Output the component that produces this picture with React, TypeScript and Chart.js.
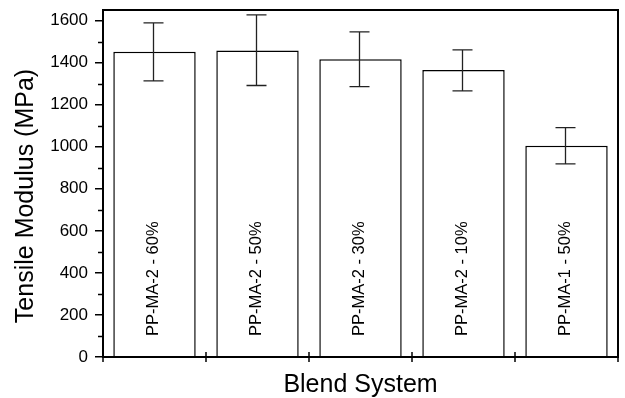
import React, { useEffect, useRef } from "react";
import { Chart, registerables } from "chart.js";

Chart.register(...registerables);

// Blend systems and their measured tensile modulus (MPa)
const categories = [
  "PP-MA-2 - 60%",
  "PP-MA-2 - 50%",
  "PP-MA-2 - 30%",
  "PP-MA-2 - 10%",
  "PP-MA-1 - 50%",
];
const modulus = [1452, 1457, 1416, 1365, 1005];
const errLow = [1313, 1291, 1286, 1265, 918];
const errHigh = [1589, 1627, 1546, 1460, 1091];
const yTicks = [0, 200, 400, 600, 800, 1000, 1200, 1400, 1600];
const yMinorTicks = [100, 300, 500, 700, 900, 1100, 1300, 1500];

const FONT = "'Liberation Sans', Arial, Helvetica, sans-serif";

const decorations = {
  id: "decorations",
  afterDatasetsDraw(chart: any) {
    const { ctx, chartArea } = chart;
    const x = chart.scales.x;
    const y = chart.scales.y;
    const meta = chart.getDatasetMeta(0);
    ctx.save();

    // labels written inside each bar
    ctx.fillStyle = "#000";
    ctx.font = `16.5px ${FONT}`;
    ctx.textAlign = "left";
    ctx.textBaseline = "middle";
    meta.data.forEach((bar: any, i: number) => {
      ctx.save();
      ctx.translate(bar.x - 1, y.getPixelForValue(0) - 21);
      ctx.rotate(-Math.PI / 2);
      ctx.fillText(categories[i], 0, 0);
      ctx.restore();
    });

    // error bars
    ctx.strokeStyle = "#222";
    ctx.lineWidth = 1.3;
    meta.data.forEach((bar: any, i: number) => {
      const cx = bar.x - 1;
      const yt = y.getPixelForValue(errHigh[i]);
      const yb = y.getPixelForValue(errLow[i]);
      ctx.beginPath();
      ctx.moveTo(cx, yt);
      ctx.lineTo(cx, yb);
      ctx.moveTo(cx - 10, yt);
      ctx.lineTo(cx + 10, yt);
      ctx.moveTo(cx - 10, yb);
      ctx.lineTo(cx + 10, yb);
      ctx.stroke();
    });

    // frame around the plot
    ctx.strokeStyle = "#000";
    ctx.lineWidth = 2;
    ctx.strokeRect(
      chartArea.left,
      chartArea.top,
      chartArea.right - chartArea.left,
      chartArea.bottom - chartArea.top
    );

    // minor y ticks
    ctx.lineWidth = 1.5;
    yMinorTicks.forEach((v) => {
      const py = Math.round(y.getPixelForValue(v)) + 0.5;
      ctx.beginPath();
      ctx.moveTo(chartArea.left - 5, py);
      ctx.lineTo(chartArea.left, py);
      ctx.stroke();
    });

    // category boundary ticks crossing the x axis
    const n = categories.length;
    for (let i = 0; i <= n; i++) {
      let px: number;
      if (i === 0) px = chartArea.left;
      else if (i === n) px = chartArea.right;
      else px = (x.getPixelForValue(i - 1) + x.getPixelForValue(i)) / 2;
      ctx.beginPath();
      ctx.moveTo(px, chartArea.bottom - 5);
      ctx.lineTo(px, chartArea.bottom + 5);
      ctx.stroke();
    }

    // axis titles
    ctx.fillStyle = "#000";
    ctx.font = `25px ${FONT}`;
    ctx.textAlign = "center";
    ctx.textBaseline = "alphabetic";
    ctx.fillText("Blend System", (chartArea.left + chartArea.right) / 2, 392);

    ctx.save();
    ctx.translate(33, 196);
    ctx.rotate(-Math.PI / 2);
    ctx.fillText("Tensile Modulus (MPa)", 0, 0);
    ctx.restore();

    ctx.restore();
  },
};

export default function App() {
  const canvasRef = useRef<HTMLCanvasElement | null>(null);

  useEffect(() => {
    if (!canvasRef.current) return;
    const chart = new Chart(canvasRef.current, {
      type: "bar",
      data: {
        labels: categories,
        datasets: [
          {
            data: modulus,
            backgroundColor: "#fff",
            borderColor: "#000",
            borderWidth: 1.5,
            barPercentage: 0.8,
            categoryPercentage: 1,
          },
        ],
      },
      options: {
        responsive: false,
        maintainAspectRatio: false,
        animation: false,
        layout: { padding: { top: 10, right: 7, left: 0, bottom: 41 } },
        plugins: {
          legend: { display: false },
          tooltip: { enabled: false },
        },
        scales: {
          x: {
            display: false,
          },
          y: {
            min: 0,
            max: 1650,
            afterBuildTicks: (scale: any) => {
              scale.ticks = yTicks.map((v) => ({ value: v }));
            },
            afterFit: (scale: any) => {
              scale.width = 103;
              scale.paddingTop = 0;
              scale.paddingBottom = 0;
            },
            ticks: {
              color: "#000",
              padding: 7,
              font: { family: FONT, size: 17 },
              callback: (value: any) => String(value),
            },
            grid: {
              drawOnChartArea: false,
              tickLength: 8,
              color: "#000",
              lineWidth: 1.5,
            },
            border: { color: "#000", width: 2 },
          },
        },
      },
      plugins: [decorations],
    });
    return () => chart.destroy();
  }, []);

  return (
    <div
      style={{
        position: "fixed",
        left: 0,
        top: 0,
        width: 625,
        height: 398,
        background: "#fff",
      }}
    >
      <canvas ref={canvasRef} width={625} height={398} />
    </div>
  );
}
